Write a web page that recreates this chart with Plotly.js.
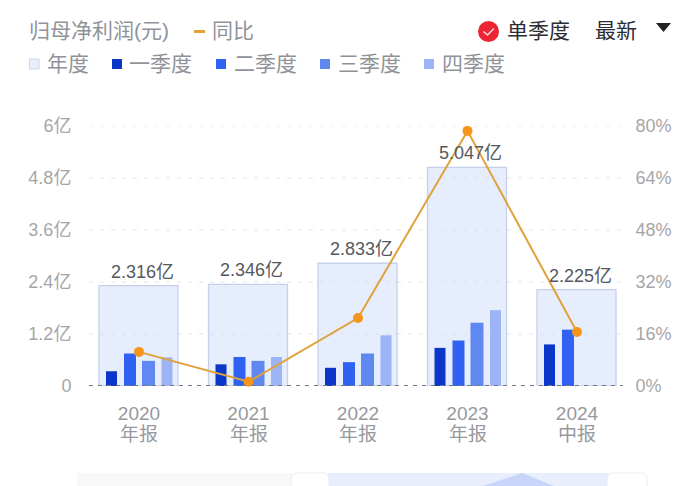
<!DOCTYPE html>
<html><head><meta charset="utf-8">
<script src="https://cdn.plot.ly/plotly-3.0.1.min.js"></script>
<style>html,body{margin:0;padding:0;background:#fff}#c{width:700px;height:486px}</style>
</head><body><div id="c"></div>
<script>
const years = ['2020','2021','2022','2023','2024'];
const reportTypes = ['年报','年报','年报','年报','中报'];
const annual = [2.316,2.346,2.833,5.047,2.225];
const annualLabels = ['2.316亿','2.346亿','2.833亿','5.047亿','2.225亿'];
const q1 = [0.34,0.50,0.42,0.88,0.96];
const q2 = [0.75,0.67,0.55,1.05,1.30];
const q3 = [0.58,0.58,0.75,1.46,null];
const q4 = [0.66,0.67,1.17,1.75,null];
const yoy = [10.5,1.3,20.9,78.5,16.6];
const leftTicks = [0,1.2,2.4,3.6,4.8,6];
const leftLabels = ['0','1.2亿','2.4亿','3.6亿','4.8亿','6亿'];
const rightTicks = [0,16,32,48,64,80];
const rightLabels = ['0%','16%','32%','48%','64%','80%'];
const xIdx = years.map((_,i)=>i);

const W=700,H=486,L=89,R=624,T=126,B=386;
const px = x=>(x-L)/(R-L), py = y=>(B-y)/(B-T);
const FONT='"Liberation Sans","Noto Sans CJK SC",sans-serif';
const unit=109.5;
const qBar=(name,y,color,off,w)=>({type:'bar',name,x:xIdx,y,width:w/unit,offset:off/unit,
  marker:{color,line:{width:0}},hoverinfo:'skip',showlegend:false});
const traces=[
 {type:'bar',name:'年度',x:xIdx,y:annual,width:79/unit,offset:-40/unit,
  marker:{color:'rgba(205,219,250,0.5)',line:{color:'#c6d0ec',width:1.3}},
  hoverinfo:'skip',showlegend:false},
 qBar('一季度',q1,'#0a36c9',-33,11),
 qBar('二季度',q2,'#2f62f3',-15,12),
 qBar('三季度',q3,'#5f88f0',3,13),
 qBar('四季度',q4,'#9db5f6',22.5,11),
 {type:'scatter',mode:'lines+markers',name:'同比',x:xIdx,y:yoy,yaxis:'y2',cliponaxis:false,
  line:{color:'#dfa23c',width:2},marker:{color:'#f5951c',size:10},hoverinfo:'skip',showlegend:false}
];
const ann=(x,y,text,size,color,anchor)=>({xref:'paper',yref:'paper',x:px(x),y:py(y),text,showarrow:false,
  xanchor:anchor||'left',yanchor:'middle',font:{family:FONT,size,color}});
const sw=(x0,y0,x1,y1,fill,line)=>({type:'rect',xref:'paper',yref:'paper',x0:px(x0),x1:px(x1),y0:py(y0),y1:py(y1),
  fillcolor:fill,line:{color:line||fill,width:line?1:0}});
const pathShape=(pts,fill,line)=>({type:'path',xref:'paper',yref:'paper',
  path:pts,fillcolor:fill,line:line?{color:line,width:1}:{width:0}});
const legendGrey='#8f9399';
const annotations=[
 ann(27,31,'归母净利润(元)',21,legendGrey),
 ann(210,31,'同比',21,legendGrey),
 ann(45,64,'年度',21,legendGrey),
 ann(127,64,'一季度',21,legendGrey),
 ann(232,64,'二季度',21,legendGrey),
 ann(336,64,'三季度',21,legendGrey),
 ann(440,64,'四季度',21,legendGrey),
 ann(505,31,'单季度',21,'#2b2d33'),
 ann(593,31,'最新',21,'#2b2d33'),
];
annualLabels.forEach((t,i)=>annotations.push({xref:'x',yref:'y',x:i,y:annual[i],text:t,showarrow:false,
  xanchor:'center',yanchor:'middle',xshift:3,yshift:14,font:{family:FONT,size:18,color:'#55595f'}}));
reportTypes.forEach((t,i)=>annotations.push({xref:'x',yref:'paper',x:i,y:py(434),text:t,showarrow:false,
  xanchor:'center',yanchor:'middle',font:{family:FONT,size:19,color:'#96999e'}}));
const P=(x,y)=>`${px(x)} ${py(y)}`;
const shapes=[
 ...leftTicks.slice(1).map(v=>({type:'line',xref:'paper',yref:'y',x0:0,x1:0.998,y0:v,y1:v,layer:'below',
   line:{color:'#e4e4e8',width:1,dash:'4px 7px'}})),
 {type:'line',xref:'paper',yref:'y',x0:0,x1:0.998,y0:0,y1:0,layer:'above',line:{color:'#74787f',width:2,dash:'4px 5px'}},
 sw(194,30,205,33,'#e3a136'),
 sw(29.5,59,39,69,'#eaeefb','#cfd6ec'),
 sw(112,59,122,69,'#0a36c9'),
 sw(216,59,226,69,'#2f62f3'),
 sw(320,59,330,69,'#5f88f0'),
 sw(424,59,434,69,'#9db5f6'),
 {type:'circle',xref:'paper',yref:'paper',x0:px(478),x1:px(499),y0:py(21),y1:py(42),fillcolor:'#ec2434',line:{width:0}},
 {type:'path',xref:'paper',yref:'paper',path:`M ${P(483.5,31.5)} L ${P(487.5,35)} L ${P(494,28.5)}`,line:{color:'#f8d5d8',width:1.6}},
 pathShape(`M ${P(656,23)} L ${P(671,23)} L ${P(663.5,32)} Z`,'#222'),
 sw(77,473,292,487,'#f8f8f9'),
 sw(328,473,609,487,'#e9eefc'),
 pathShape(`M ${P(480,487)} L ${P(522,473)} L ${P(556,487)} Z`,'#c6d5f9'),
 pathShape(`M ${P(291,487)} L ${P(291,480)} Q ${P(291,473)} ${P(298,473)} L ${P(322,473)} Q ${P(329,473)} ${P(329,480)} L ${P(329,487)} Z`,'#ffffff','#ececf0'),
 pathShape(`M ${P(607,487)} L ${P(607,480)} Q ${P(607,473)} ${P(614,473)} L ${P(640,473)} Q ${P(647,473)} ${P(647,480)} L ${P(647,487)} Z`,'#ffffff','#ececf0'),
];
Plotly.newPlot('c',traces,{
 width:W,height:H,margin:{l:L,r:W-R,t:T,b:H-B,pad:0},
 paper_bgcolor:'#fff',plot_bgcolor:'rgba(0,0,0,0)',barmode:'overlay',showlegend:false,
 font:{family:FONT},
 xaxis:{type:'linear',range:[(L-139)/unit,(R-139)/unit],tickmode:'array',tickvals:xIdx,ticktext:years,
   showgrid:false,zeroline:false,showline:false,ticks:'outside',ticklen:10,tickcolor:'rgba(0,0,0,0)',tickangle:0,
   tickfont:{family:FONT,size:19,color:'#96999e'}},
 yaxis:{range:[0,6],tickmode:'array',tickvals:leftTicks,ticktext:leftLabels,showgrid:false,
   zeroline:false,showline:false,ticks:'outside',ticklen:13,tickcolor:'rgba(0,0,0,0)',
   tickfont:{family:FONT,size:18,color:'#a6a6a8'},automargin:false},
 yaxis2:{range:[0,80],overlaying:'y',side:'right',tickmode:'array',tickvals:rightTicks,ticktext:rightLabels,
   showgrid:false,zeroline:false,showline:false,ticks:'outside',ticklen:7,tickcolor:'rgba(0,0,0,0)',
   tickfont:{family:FONT,size:18,color:'#a6a6a8'},automargin:false},
 annotations,shapes
},{staticPlot:true,displayModeBar:false});
</script></body></html>
